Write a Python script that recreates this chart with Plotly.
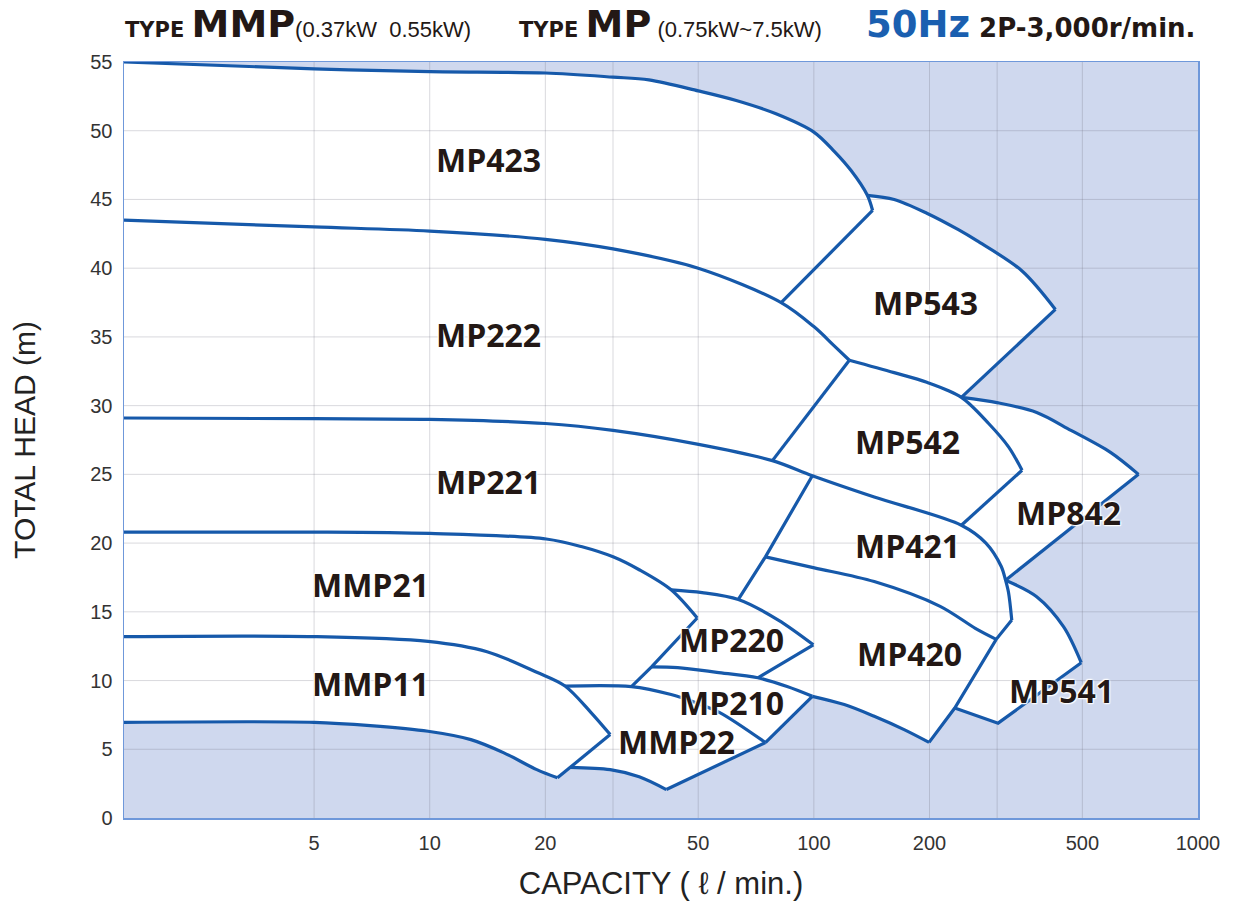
import math
import plotly.graph_objects as go

# ---------------- axes ----------------
X_TICKS = [5, 10, 20, 50, 100, 200, 500, 1000]
X_GRID = [5, 10, 20, 30, 50, 100, 200, 300, 500]
Y_TICKS = list(range(0, 56, 5))
Q_MIN, Q_MAX = 1.6, 1000
H_MIN, H_MAX = 0, 55

# ---------------- curves (capacity l/min, head m) ----------------
MP423_Q = [1.6, 5, 10, 20, 30, 37.2, 50, 62.8, 79.4, 100, 113, 125, 137.8, 142.2]
MP423_H = [55.0, 54.5, 54.3, 54.2, 53.9, 53.7, 52.9, 52.2, 51.25, 49.9, 48.5, 47.1, 45.3, 44.2]

MP543_Q = [137.8, 161.8, 196.8, 237.8, 265.6, 348.3, 425.4]
MP543_H = [45.3, 45.0, 44.0, 42.8, 42.0, 39.8, 37.0]
MP543_LEFT_Q = [142.2, 82.2]
MP543_LEFT_H = [44.2, 37.5]
MP543_RIGHT_Q = [425.4, 242.1]
MP543_RIGHT_H = [37.0, 30.6]

MP222_Q = [1.6, 5, 10, 20, 30, 50, 82.2, 100, 113, 123.7]
MP222_H = [43.5, 43.0, 42.7, 42.1, 41.4, 40.0, 37.5, 35.75, 34.35, 33.3]

MP542_Q = [123.7, 161.8, 196.8, 242.1, 285.1, 321.2, 348.3]
MP542_H = [33.3, 32.4, 31.7, 30.6, 28.7, 27.0, 25.3]
MP542_LEFT_Q = [123.7, 78.0]
MP542_LEFT_H = [33.3, 26.0]
MP542_RIGHT_Q = [348.3, 242.1]
MP542_RIGHT_H = [25.3, 21.3]

MP842_Q = [242.1, 301.7, 380.2, 467, 591.8, 700]
MP842_H = [30.6, 30.2, 29.5, 28.2, 26.6, 25.0]
MP842_LOW_Q = [700, 315.5]
MP842_LOW_H = [25.0, 17.3]

MP221_Q = [1.6, 5, 10, 20, 30, 49.7, 78.0, 99.1, 143.6, 242.1, 280.5, 307.5, 315.5, 321.2, 327.5]
MP221_H = [29.1, 29.05, 29.0, 28.7, 28.2, 27.2, 26.0, 24.9, 23.35, 21.3, 20.0, 18.3, 17.3, 16.4, 14.4]

MP421_LEFT_Q = [99.1, 74.8, 63.6]
MP421_LEFT_H = [24.9, 19.0, 15.9]

MP420_TOP_Q = [74.8, 100.3, 143.6, 213.2, 263.2, 298.3]
MP420_TOP_H = [19.0, 18.2, 17.2, 15.4, 13.8, 13.0]
MP420_RIGHT_Q = [327.5, 298.3, 232.7, 199.5]
MP420_RIGHT_H = [14.4, 13.0, 8.0, 5.5]
MP420_BOT_Q = [99.1, 120, 143.6, 171.8, 199.5]
MP420_BOT_H = [8.85, 8.25, 7.4, 6.43, 5.5]

MP541_TOP_Q = [315.5, 380.2, 447, 496.6]
MP541_TOP_H = [17.3, 16.1, 13.9, 11.3]
MP541_BOT_Q = [496.6, 301.7, 232.7]
MP541_BOT_H = [11.3, 6.9, 8.0]

MMP21_Q = [1.6, 5, 10, 20.1, 24.8, 30, 35.1, 42.5, 49.7]
MMP21_H = [20.8, 20.8, 20.7, 20.3, 19.75, 19.0, 18.06, 16.6, 14.55]

MP220_LEFT_Q = [49.7, 37.8, 33.5]
MP220_LEFT_H = [14.55, 11.0, 9.56]
MP220_TOP_Q = [42.5, 51.2, 63.6, 80.8, 99.7]
MP220_TOP_H = [16.6, 16.4, 15.9, 14.4, 12.6]
MP220_RIGHT_Q = [99.7, 71.5]
MP220_RIGHT_H = [12.6, 10.2]

MP210_TOP_Q = [37.8, 44.2, 55.9, 71.5, 85.2, 99.1]
MP210_TOP_H = [11.0, 10.94, 10.6, 10.2, 9.56, 8.85]
MP210_RIGHT_Q = [99.1, 74.8]
MP210_RIGHT_H = [8.85, 5.49]

MMP22_TOP_Q = [22.5, 33.5, 42.5, 49.7, 56.9, 74.8]
MMP22_TOP_H = [9.6, 9.56, 8.98, 8.35, 7.67, 5.49]
MMP22_EDGE_Q = [74.8, 41.3]
MMP22_EDGE_H = [5.49, 2.07]
MMP22_BOT_Q = [41.3, 35.1, 29.5, 23.2]
MMP22_BOT_H = [2.07, 3.0, 3.52, 3.69]

MMP11_Q = [1.6, 5, 9.9, 14.1, 19.0, 22.5, 26.3, 29.5]
MMP11_H = [13.2, 13.2, 12.85, 12.1, 10.6, 9.6, 7.67, 6.07]
MMP11_TIP_Q = [29.5, 21.5]
MMP11_TIP_H = [6.07, 2.92]

LOW_Q = [1.6, 5, 7.0, 9.9, 12.8, 15.6, 19.0, 21.5]
LOW_H = [6.96, 6.96, 6.72, 6.31, 5.70, 4.74, 3.52, 2.92]

# ---------------- labels ----------------
LABELS = ["MP423", "MP222", "MP221", "MMP21", "MMP11", "MP543", "MP542", "MP842",
          "MP421", "MP220", "MP420", "MP210", "MMP22", "MP541"]
LABEL_Q = [14.2, 14.2, 14.2, 7.0, 7.0, 195, 175, 460, 175, 61, 177, 61, 44.0, 440]
LABEL_H = [47.9, 35.2, 24.5, 17.0, 9.8, 37.5, 27.4, 22.2, 19.8, 13.0, 12.0, 8.4, 5.6, 9.3]

BLUE = "#1659aa"
BG = "#cfd8ee"
TXT = "#231815"
SMOOTH = 0.9

fig = go.Figure()

# white operating area (outer boundary built from the curves)
poly_q = (MP423_Q[:-2] + MP543_Q + MP842_Q + MP541_TOP_Q + MP541_BOT_Q[1:]
          + MP420_BOT_Q[::-1] + MMP22_EDGE_Q + MMP22_BOT_Q[1:] + LOW_Q[::-1])
poly_h = (MP423_H[:-2] + MP543_H + MP842_H + MP541_TOP_H + MP541_BOT_H[1:]
          + MP420_BOT_H[::-1] + MMP22_EDGE_H + MMP22_BOT_H[1:] + LOW_H[::-1])
fig.add_trace(go.Scatter(x=poly_q, y=poly_h, mode="lines", fill="toself",
                         fillcolor="white",
                         line=dict(width=0, color="white", shape="linear"),
                         hoverinfo="skip", showlegend=False))

# grid lines (drawn above the white area, below the curves)
gx, gy = [], []
for q in X_GRID:
    gx += [q, q, None]
    gy += [H_MIN, H_MAX, None]
for h in Y_TICKS[1:-1]:
    gx += [Q_MIN, Q_MAX, None]
    gy += [h, h, None]
fig.add_trace(go.Scatter(x=gx, y=gy, mode="lines",
                         line=dict(color="rgba(110,110,125,0.26)", width=1),
                         hoverinfo="skip", showlegend=False))

curves = [
    (MP423_Q, MP423_H, True), (MP543_Q, MP543_H, True),
    (MP543_LEFT_Q, MP543_LEFT_H, False), (MP543_RIGHT_Q, MP543_RIGHT_H, False),
    (MP222_Q, MP222_H, True), (MP542_Q, MP542_H, True),
    (MP542_LEFT_Q, MP542_LEFT_H, False), (MP542_RIGHT_Q, MP542_RIGHT_H, False),
    (MP842_Q, MP842_H, True), (MP842_LOW_Q, MP842_LOW_H, False),
    (MP221_Q, MP221_H, True), (MP421_LEFT_Q, MP421_LEFT_H, False),
    (MP420_TOP_Q, MP420_TOP_H, True), (MP420_RIGHT_Q, MP420_RIGHT_H, False),
    (MP420_BOT_Q, MP420_BOT_H, True), (MP541_TOP_Q, MP541_TOP_H, True),
    (MP541_BOT_Q, MP541_BOT_H, False), (MMP21_Q, MMP21_H, True),
    (MP220_LEFT_Q, MP220_LEFT_H, False), (MP220_TOP_Q, MP220_TOP_H, True),
    (MP220_RIGHT_Q, MP220_RIGHT_H, False), (MP210_TOP_Q, MP210_TOP_H, True),
    (MP210_RIGHT_Q, MP210_RIGHT_H, False), (MMP22_TOP_Q, MMP22_TOP_H, True),
    (MMP22_EDGE_Q, MMP22_EDGE_H, False), (MMP22_BOT_Q, MMP22_BOT_H, True),
    (MMP11_Q, MMP11_H, True), (MMP11_TIP_Q, MMP11_TIP_H, False),
    (LOW_Q, LOW_H, True),
]
for q, h, smooth in curves:
    fig.add_trace(go.Scatter(
        x=q, y=h, mode="lines", hoverinfo="skip", showlegend=False,
        line=dict(color=BLUE, width=3.2, shape="spline" if smooth else "linear",
                  smoothing=SMOOTH)))

halo = "0 0 2px #ffffff, 0 0 2px #ffffff, 0 0 3px #ffffff, 1px 1px 1px #ffffff, -1px -1px 1px #ffffff"
for name, q, h in zip(LABELS, LABEL_Q, LABEL_H):
    fig.add_annotation(x=math.log10(q), y=h, text=name, showarrow=False,
                       xref="x", yref="y",
                       font=dict(family="Open Sans", size=32, color=TXT,
                                 weight="bold", shadow=halo))

# heading
BOLD = "font-family:DejaVu Sans;font-weight:bold"
TY = 1.0185
fig.add_annotation(
    xref="paper", yref="paper", x=-0.001, y=TY, xanchor="left", yanchor="bottom",
    showarrow=False,
    text=(f"<span style='{BOLD};font-size:21px'>TYPE</span>"
          f"<span style='{BOLD};font-size:21px'>\u00a0</span>"
          f"<span style='{BOLD};font-size:38px'>MMP</span>"
          "<span style='font-size:22px'>(0.37kW\u00a0\u00a00.55kW)</span>"),
    font=dict(family="Liberation Sans", size=22, color=TXT))
fig.add_annotation(
    xref="paper", yref="paper", x=0.366, y=TY, xanchor="left", yanchor="bottom",
    showarrow=False,
    text=(f"<span style='{BOLD};font-size:21px'>TYPE</span>"
          f"<span style='{BOLD};font-size:21px'>\u00a0</span>"
          f"<span style='{BOLD};font-size:38px'>MP</span>"
          "<span style='font-size:22px'>\u00a0(0.75kW~7.5kW)</span>"),
    font=dict(family="Liberation Sans", size=22, color=TXT))
fig.add_annotation(
    xref="paper", yref="paper", x=0.999, y=TY, xanchor="right", yanchor="bottom",
    showarrow=False,
    text=(f"<span style='{BOLD};font-size:37px;color:#1a5fb0'>50Hz</span>"
          f"<span style='{BOLD};font-size:26px'>\u00a02P-3,000r/min.</span>"),
    font=dict(family="DejaVu Sans", size=26, color=TXT))

fig.update_layout(
    width=1236, height=901,
    margin=dict(l=124, r=38, t=62, b=83, autoexpand=False),
    paper_bgcolor="white", plot_bgcolor=BG,
    font=dict(family="Liberation Sans", color="#333333"),
    showlegend=False,
)
fig.update_xaxes(
    type="log", range=[math.log10(Q_MIN), math.log10(Q_MAX)],
    tickvals=X_TICKS, ticktext=[str(v) for v in X_TICKS],
    showgrid=False, zeroline=False, automargin=False,
    showline=True, mirror=True, linecolor="#6f98da", linewidth=1.5,
    tickfont=dict(size=20, color="#333333"), ticks="", ticklabelstandoff=6,
    title=dict(text="CAPACITY ( \u2113 / min.)", font=dict(size=31, color="#222222"),
               standoff=20),
)
fig.update_yaxes(
    range=[H_MIN, H_MAX], tickvals=Y_TICKS, ticktext=[str(v) for v in Y_TICKS],
    showgrid=False, zeroline=False, automargin=False,
    showline=True, mirror=True, linecolor="#6f98da", linewidth=1.5,
    tickfont=dict(size=20, color="#333333"), ticks="", ticklabelstandoff=6,
    title=dict(text="TOTAL HEAD (m)", font=dict(size=30, color="#222222"),
               standoff=46),
)

fig.write_html("out.html",
               config={"displayModeBar": False, "staticPlot": True},
               post_script="document.body.style.margin='0px';document.body.style.overflow='hidden';")
